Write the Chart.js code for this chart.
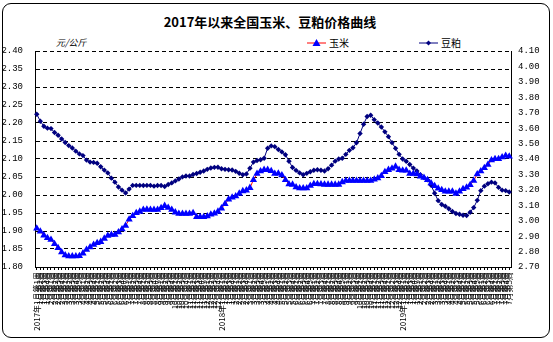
<!DOCTYPE html>
<html>
<head>
<meta charset="utf-8">
<script src="https://cdn.jsdelivr.net/npm/chart.js@4.4.0/dist/chart.umd.min.js"></script>
<style>
  body { margin: 0; background: #fff; }
  #wrap { position: relative; width: 553px; height: 342px; font-family: "Noto Sans CJK SC", sans-serif; color: #000; }
  #frame { position: absolute; left: 2px; top: 3px; width: 546px; height: 333px; border: 1px solid #000; border-radius: 9px; }
  #title { position: absolute; left: 0; width: 540px; top: 12px; text-align: center; font-size: 13px; font-weight: bold; }
  #unit { position: absolute; left: 56px; top: 36px; font-size: 9px; font-style: italic; }
  .leg { position: absolute; top: 35px; font-size: 10px; }
  .legmark { position: absolute; top: 38px; }
  canvas { position: absolute; left: 0; top: 0; }
</style>
</head>
<body>
<div id="wrap">
  <div id="frame"></div>
  <div id="title">2017年以来全国玉米、豆粕价格曲线</div>
  <div id="unit">元/公斤</div>
  <svg class="legmark" style="left:307px" width="19" height="10">
    <line x1="0" y1="5" x2="19" y2="5" stroke="#ff0000" stroke-width="1"/>
    <polygon points="9.5,1 13.5,8 5.5,8" fill="#0000ff"/>
  </svg>
  <div class="leg" style="left:329px">玉米</div>
  <svg class="legmark" style="left:419px" width="19" height="10">
    <line x1="0" y1="5" x2="19" y2="5" stroke="#000080" stroke-width="1"/>
    <polygon points="9.5,2.5 12,5 9.5,7.5 7,5" fill="#000080"/>
  </svg>
  <div class="leg" style="left:441px">豆粕</div>
  <canvas id="chart" width="553" height="342"></canvas>
</div>
<script>
// 周标签：每年每月的周数
const years = ["2017年", "2018年", "2019年"];
const weeksPerMonth = [
  [4, 4, 5, 4, 4, 5, 4, 5, 4, 4, 5, 4],
  [4, 4, 5, 4, 4, 5, 4, 5, 4, 4, 4, 4],
  [5, 4, 4, 4, 5, 4, 5]
];

// 玉米 元/公斤（左轴）
const corn = [
  1.907, 1.899, 1.888, 1.881, 1.876, 1.864, 1.853, 1.841, 1.833, 1.830,
  1.830, 1.830, 1.831, 1.838, 1.848, 1.855, 1.862, 1.867, 1.870, 1.879,
  1.887, 1.890, 1.890, 1.897, 1.905, 1.915, 1.932, 1.942, 1.950, 1.954,
  1.959, 1.960, 1.959, 1.959, 1.959, 1.964, 1.970, 1.965, 1.959, 1.952,
  1.948, 1.948, 1.948, 1.948, 1.950, 1.939, 1.939, 1.939, 1.941, 1.946,
  1.949, 1.954, 1.963, 1.975, 1.988, 1.993, 1.997, 2.004, 2.011, 2.013,
  2.020, 2.042, 2.059, 2.066, 2.070, 2.070, 2.067, 2.059, 2.060, 2.055,
  2.042, 2.030, 2.029, 2.022, 2.019, 2.019, 2.019, 2.026, 2.031, 2.031,
  2.030, 2.029, 2.029, 2.029, 2.029, 2.029, 2.036, 2.040, 2.040, 2.040,
  2.040, 2.040, 2.040, 2.040, 2.040, 2.043, 2.047, 2.053, 2.064, 2.070,
  2.074, 2.079, 2.070, 2.068, 2.068, 2.059, 2.059, 2.058, 2.052, 2.048,
  2.042, 2.033, 2.025, 2.018, 2.014, 2.010, 2.010, 2.010, 2.004, 2.010,
  2.017, 2.021, 2.028, 2.040, 2.058, 2.066, 2.075, 2.084, 2.097, 2.100,
  2.100, 2.105, 2.109, 2.107
];

// 豆粕 元/公斤（右轴）
const soymeal = [
  3.690, 3.645, 3.612, 3.600, 3.597, 3.572, 3.554, 3.530, 3.507, 3.487,
  3.471, 3.451, 3.433, 3.422, 3.393, 3.380, 3.378, 3.372, 3.350, 3.328,
  3.310, 3.276, 3.250, 3.219, 3.198, 3.180, 3.205, 3.229, 3.229, 3.229,
  3.228, 3.229, 3.229, 3.224, 3.228, 3.228, 3.222, 3.235, 3.245, 3.258,
  3.270, 3.284, 3.290, 3.290, 3.300, 3.306, 3.314, 3.322, 3.333, 3.342,
  3.346, 3.347, 3.337, 3.333, 3.330, 3.329, 3.320, 3.308, 3.298, 3.303,
  3.340, 3.380, 3.390, 3.395, 3.405, 3.470, 3.485, 3.480, 3.462, 3.446,
  3.428, 3.385, 3.345, 3.326, 3.310, 3.298, 3.307, 3.317, 3.327, 3.330,
  3.327, 3.322, 3.337, 3.360, 3.386, 3.400, 3.405, 3.430, 3.456, 3.473,
  3.505, 3.565, 3.625, 3.675, 3.684, 3.655, 3.633, 3.607, 3.576, 3.545,
  3.506, 3.469, 3.430, 3.400, 3.385, 3.364, 3.341, 3.322, 3.298, 3.279,
  3.265, 3.230, 3.178, 3.130, 3.105, 3.094, 3.078, 3.060, 3.047, 3.042,
  3.035, 3.034, 3.055, 3.085, 3.132, 3.195, 3.224, 3.240, 3.250, 3.245,
  3.216, 3.198, 3.195, 3.186
];

// 坐标轴刻度
const leftTicks = [1.80, 2.40, 0.05];
const rightTicks = [2.70, 4.10, 0.10];

const labels = [];
years.forEach((yr, y) => {
  weeksPerMonth[y].forEach((n, m) => {
    for (let w = 1; w <= n; w++) {
      const prefix = (m === 0 && w === 1) ? yr : "";
      labels.push(prefix + (m + 1) + "月第" + w + "周");
    }
  });
});

const tickFont = { family: "'Liberation Mono', monospace", size: 9 };

new Chart(document.getElementById("chart"), {
  type: "line",
  data: {
    labels: labels,
    datasets: [
      {
        label: "玉米",
        data: corn,
        yAxisID: "y",
        borderColor: "#ff0000",
        borderWidth: 1,
        pointStyle: "triangle",
        pointRadius: 4.2,
        pointBackgroundColor: "#0000ff",
        pointBorderColor: "#0000ff",
        pointBorderWidth: 0,
        tension: 0
      },
      {
        label: "豆粕",
        data: soymeal,
        yAxisID: "y1",
        borderColor: "#000080",
        borderWidth: 1,
        pointStyle: "rectRot",
        pointRadius: 2.7,
        pointBackgroundColor: "#000080",
        pointBorderColor: "#000080",
        pointBorderWidth: 0,
        tension: 0
      }
    ]
  },
  options: {
    responsive: false,
    animation: false,
    devicePixelRatio: 1,
    layout: { padding: { top: 51, left: 0, right: 0, bottom: 0 } },
    plugins: {
      legend: { display: false },
      title: { display: false },
      tooltip: { enabled: false }
    },
    scales: {
      x: {
        offset: true,
        afterFit: (s) => { s.height = 75; },
        grid: { drawOnChartArea: false, drawTicks: true, tickLength: 3, color: "#000" },
        border: { display: true, color: "#000", width: 1 },
        ticks: {
          autoSkip: false,
          minRotation: 90,
          maxRotation: 90,
          padding: 2,
          color: "#000",
          font: { family: "'Noto Sans CJK SC', sans-serif", size: 8 }
        }
      },
      y: {
        position: "left",
        min: leftTicks[0],
        max: leftTicks[1],
        afterFit: (s) => { s.width = 35; },
        grid: { color: "#000", lineWidth: 1, drawTicks: false },
        border: { display: true, color: "#000", width: 1, dash: [4, 3] },
        ticks: {
          stepSize: leftTicks[2],
          padding: 12,
          color: "#000",
          font: tickFont,
          callback: (v) => v.toFixed(2)
        }
      },
      y1: {
        position: "right",
        min: rightTicks[0],
        max: rightTicks[1],
        afterFit: (s) => { s.width = 42; },
        grid: { drawOnChartArea: false, drawTicks: false },
        border: { display: true, color: "#000", width: 1 },
        ticks: {
          stepSize: rightTicks[2],
          padding: 7,
          color: "#000",
          font: tickFont,
          callback: (v) => v.toFixed(2)
        }
      }
    }
  }
});
</script>
</body>
</html>
